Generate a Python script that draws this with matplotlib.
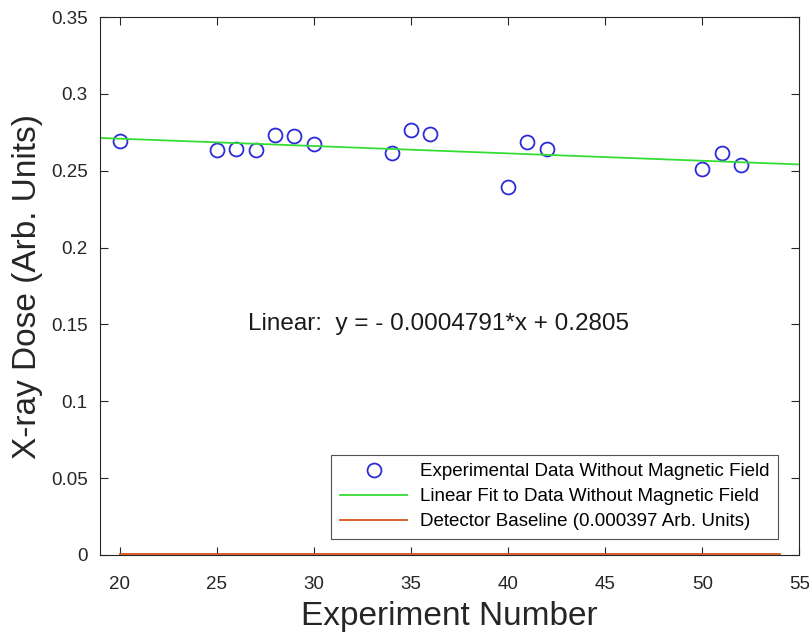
import matplotlib
matplotlib.use('Agg')
import matplotlib.pyplot as plt
import numpy as np

plt.rcParams['font.family'] = ['Liberation Sans', 'DejaVu Sans']

# measured dose per experiment (no magnetic field)
experiment = [20, 25, 26, 27, 28, 29, 30, 34, 35, 36, 40, 41, 42, 50, 51, 52]
dose = [0.2693, 0.2633, 0.2641, 0.2633, 0.2735, 0.2726, 0.2674, 0.2613,
        0.2765, 0.2737, 0.2392, 0.2685, 0.2644, 0.2513, 0.2613, 0.2535]

# linear fit coefficients
slope = -0.0004791
intercept = 0.2805

# detector baseline
baseline = 0.000397
baseline_range = [20, 54]

fig = plt.figure(figsize=(8.09, 6.35), dpi=100)
ax = fig.add_axes([0.124, 0.126, 0.864, 0.847])

xfit = np.array([19, 55])
ax.plot(experiment, dose, 'o', mfc='none', mec='#2b2bd9', ms=10, mew=1.3,
        linestyle='none', label='Experimental Data Without Magnetic Field')
ax.plot(xfit, slope * xfit + intercept, color='#33dd33', lw=1.3,
        label='Linear Fit to Data Without Magnetic Field')
ax.plot(baseline_range, [baseline, baseline], color='#D95319', lw=1.3,
        label='Detector Baseline (0.000397 Arb. Units)')

ax.text(36.4, 0.15, 'Linear:  y = - 0.0004791*x + 0.2805', fontsize=17.5,
        ha='center', va='center', color='#1a1a1a')

ax.set_xlim(19, 55)
ax.set_ylim(0, 0.35)
ax.set_xticks(range(20, 56, 5))
ax.set_yticks([0, 0.05, 0.1, 0.15, 0.2, 0.25, 0.3, 0.35])
ax.set_yticklabels(['0', '0.05', '0.1', '0.15', '0.2', '0.25', '0.3', '0.35'])
ax.tick_params(direction='in', labelsize=13.5, colors='#262626', top=True, right=True,
               length=6)
ax.tick_params(axis='x', pad=15)
ax.tick_params(axis='y', pad=9)
for s in ax.spines.values():
    s.set_color('#262626')
    s.set_linewidth(0.8)

ax.set_xlabel('Experiment Number', fontsize=24, color='#262626', labelpad=6)
ax.set_ylabel('X-ray Dose (Arb. Units)', fontsize=24, color='#262626', labelpad=6)

leg = ax.legend(loc='lower right', bbox_to_anchor=(0.970, 0.030), fontsize=13.5,
                frameon=True, fancybox=False, edgecolor='#262626', borderaxespad=0,
                handlelength=3.6, handletextpad=0.7, labelspacing=0.42, borderpad=0.45)
leg.get_frame().set_linewidth(0.8)

fig.savefig('out.png', dpi=100)
